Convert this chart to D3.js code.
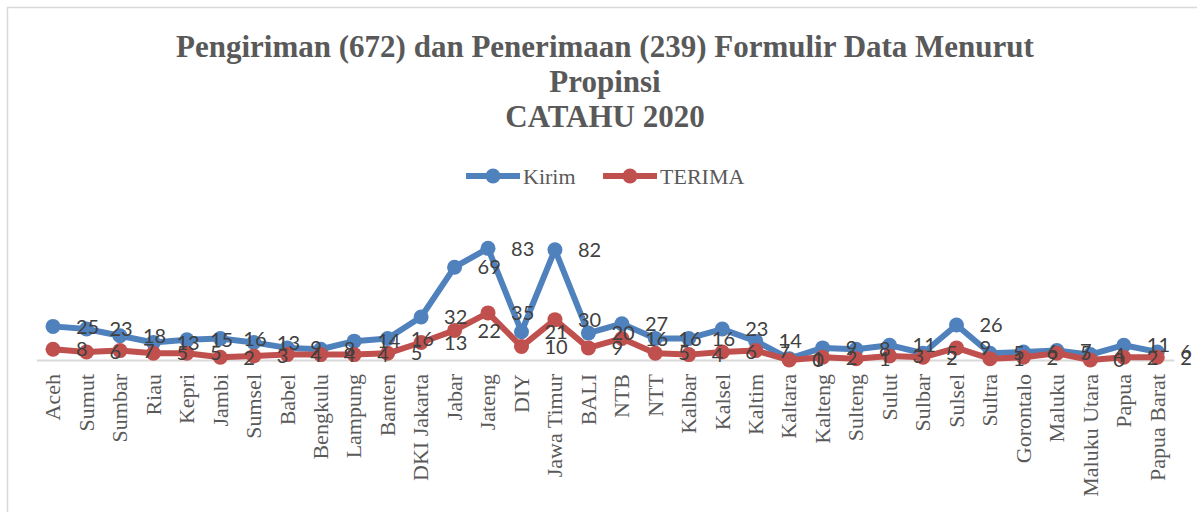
<!DOCTYPE html>
<html>
<head>
<meta charset="utf-8">
<script src="https://cdn.jsdelivr.net/npm/d3@7"></script>
<style>
  html, body { margin: 0; padding: 0; background: #fff; }
  svg { display: block; }
</style>
</head>
<body>
<svg id="chart" width="1197" height="512"></svg>
<script>
const categories = ["Aceh","Sumut","Sumbar","Riau","Kepri","Jambi","Sumsel","Babel","Bengkulu","Lampung","Banten","DKI Jakarta","Jabar","Jateng","DIY","Jawa Timur","BALI","NTB","NTT","Kalbar","Kalsel","Kaltim","Kaltara","Kalteng","Sulteng","Sulut","Sulbar","Sulsel","Sultra","Gorontalo","Maluku","Maluku Utara","Papua","Papua Barat"];
const kirim = [25,23,18,13,15,16,13,9,8,14,16,32,69,83,21,82,20,27,16,16,23,14,1,9,8,11,5,26,5,6,7,4,11,6];
const terima = [8,6,7,5,5,2,3,4,4,4,5,13,22,35,10,30,9,16,5,4,6,7,0,2,1,3,2,9,1,2,5,0,2,2];
const seriesNames = ["Kirim","TERIMA"];
const seriesColors = ["#4F81BD","#C0504D"];
const titleLines = ["Pengiriman (672) dan Penerimaan (239) Formulir Data Menurut","Propinsi","CATAHU 2020"];
const yDomain = [0, 90];

const svg = d3.select("#chart");
const W = 1197, H = 512;

// chart border
svg.append("rect").attr("x", 7.5).attr("y", 7.5).attr("width", W + 10).attr("height", H + 10)
  .attr("fill", "#fff").attr("stroke", "#D9D9D9").attr("stroke-width", 1.5);

const x = d3.scaleBand().domain(categories).range([36.3, 1174]);
const y = d3.scaleLinear().domain(yDomain).range([360, 360 - 90 * 1.345]);
const cx = d => x(d) + x.bandwidth() / 2;

// title
const title = svg.append("text").attr("text-anchor", "middle")
  .attr("font-family", "Liberation Serif, serif").attr("font-weight", "bold")
  .attr("font-size", 31).attr("fill", "#595959");
titleLines.forEach((t, i) => {
  title.append("tspan").attr("x", 605).attr("y", 57 + i * 35).text(t);
});

// x axis
const xAxis = d3.axisBottom(x).tickSize(0).tickPadding(0);
const gx = svg.append("g").attr("transform", "translate(0,360)").call(xAxis);
gx.select(".domain").attr("stroke", "#D9D9D9").attr("stroke-width", 2);
gx.selectAll(".tick text")
  .attr("font-family", "Liberation Serif, serif").attr("font-size", 22).attr("fill", "#595959")
  .attr("transform", "rotate(-90)").attr("text-anchor", "end")
  .attr("x", -14).attr("y", 0).attr("dy", "0.33em");

// lines
const data = [kirim, terima];
const line = d3.line().x((d, i) => cx(categories[i])).y(d => y(d));
data.forEach((vals, s) => {
  svg.append("path").datum(vals).attr("d", line).attr("fill", "none")
    .attr("stroke", seriesColors[s]).attr("stroke-width", 6).attr("stroke-linejoin", "round");
  svg.append("g").selectAll("circle").data(vals).join("circle")
    .attr("cx", (d, i) => cx(categories[i])).attr("cy", d => y(d)).attr("r", 7.5)
    .attr("fill", seriesColors[s]);
});

// data labels
data.forEach((vals, s) => {
  svg.append("g").selectAll("text").data(vals).join("text")
    .attr("x", (d, i) => cx(categories[i]) + 23).attr("y", d => y(d)).attr("dy", "0.36em")
    .attr("font-family", "Lato, sans-serif").attr("font-size", 20).attr("fill", "#404040")
    .text(d => d);
});

// legend
const legend = svg.append("g").attr("transform", "translate(0,176)");
const legX = [466, 603];
seriesNames.forEach((n, i) => {
  const g = legend.append("g").attr("transform", `translate(${legX[i]},0)`);
  g.append("line").attr("x1", 0).attr("x2", 54).attr("y1", 0).attr("y2", 0)
    .attr("stroke", seriesColors[i]).attr("stroke-width", 6);
  g.append("circle").attr("cx", 27).attr("cy", 0).attr("r", 7.5).attr("fill", seriesColors[i]);
  g.append("text").attr("x", 57).attr("y", 0).attr("dy", "0.35em")
    .attr("font-family", "Liberation Serif, serif").attr("font-size", 22).attr("fill", "#595959").text(n);
});
</script>
</body>
</html>
